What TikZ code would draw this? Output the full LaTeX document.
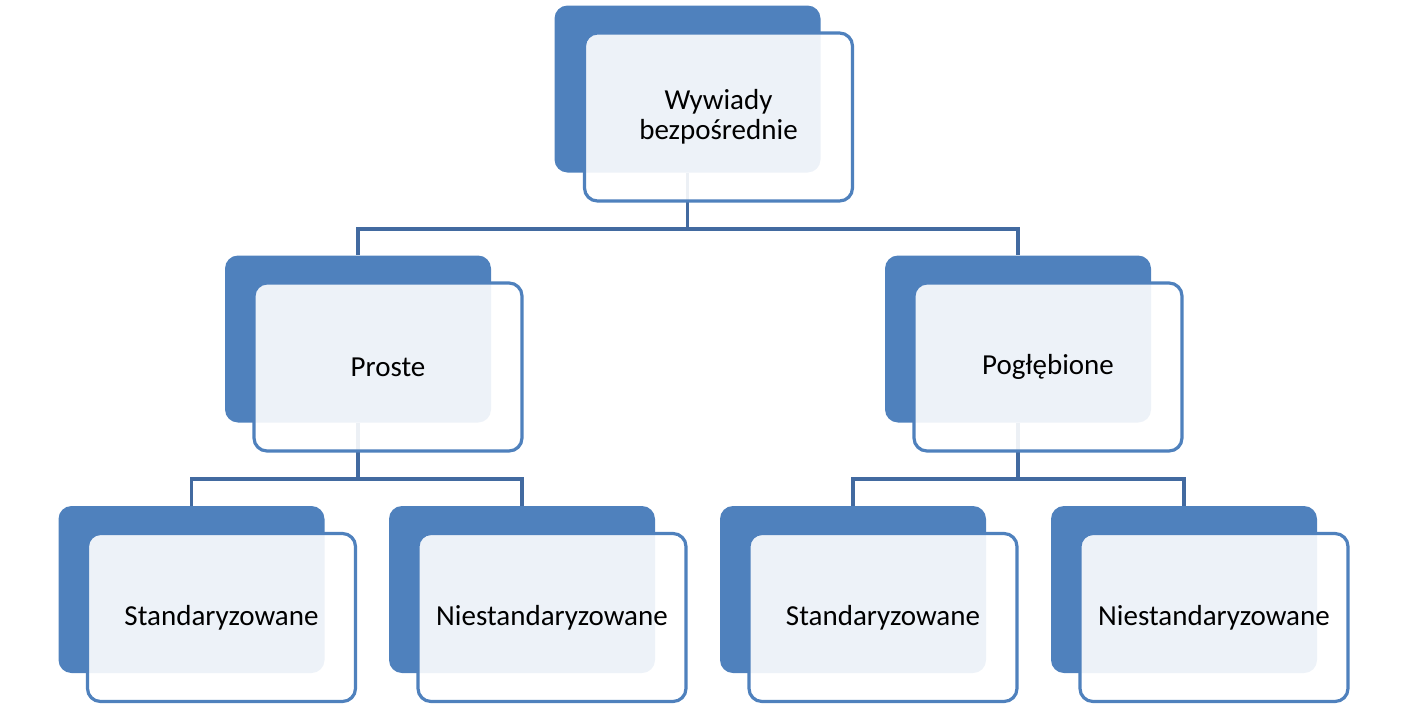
\documentclass[tikz,border=0pt]{standalone}
\usepackage{fontspec}
\setmainfont{Carlito}
\definecolor{accent}{RGB}{79,129,189}
\definecolor{linkblue}{RGB}{66,106,160}

\begin{document}
\begin{tikzpicture}[x=0.5pt,y=-0.5pt,
    back/.style={fill=accent,rounded corners=6.5pt,minimum width=133pt,minimum height=83.5pt,inner sep=0pt},
    front/.style={draw=accent,line width=1.6pt,fill=white,fill opacity=0.9,text opacity=1,rounded corners=6.5pt,
      minimum width=134pt,minimum height=84pt,inner sep=0pt,align=center,font=\fontsize{14.5}{15}\selectfont}]
  \useasboundingbox (0,0) rectangle (1405,707);
  \draw
    (687.5,89) node[back] (b0){}
    (358,339) node[back] (b1){}
    (1018,339) node[back] (b2){}
    (191.5,589.5) node[back] (b3){}
    (522,589.5) node[back] (b4){}
    (853,589.5) node[back] (b5){}
    (1184,589.5) node[back] (b6){};
  \begin{scope}[linkblue,line width=1.7pt]
    \draw (b0.south) -- ++(0,56) -| (b1.north);
    \draw (b0.south) -- ++(0,56) -| (b2.north);
    \draw (b1.south) -- ++(0,56) -| (b3.north);
    \draw (b1.south) -- ++(0,56) -| (b4.north);
    \draw (b2.south) -- ++(0,56) -| (b5.north);
    \draw (b2.south) -- ++(0,56) -| (b6.north);
  \end{scope}
  \draw
    (718.5,117) node[front] (0){Wywiady\\bezpośrednie}
    (388,367) node[front] (1){Proste}
    (1048,367) node[front] (2){Pogłębione}
    (221.5,617.5) node[front] (3){Standaryzowane}
    (552,617.5) node[front] (4){Niestandaryzowane}
    (883,617.5) node[front] (5){Standaryzowane}
    (1214,617.5) node[front] (6){Niestandaryzowane};
\end{tikzpicture}
\end{document}
